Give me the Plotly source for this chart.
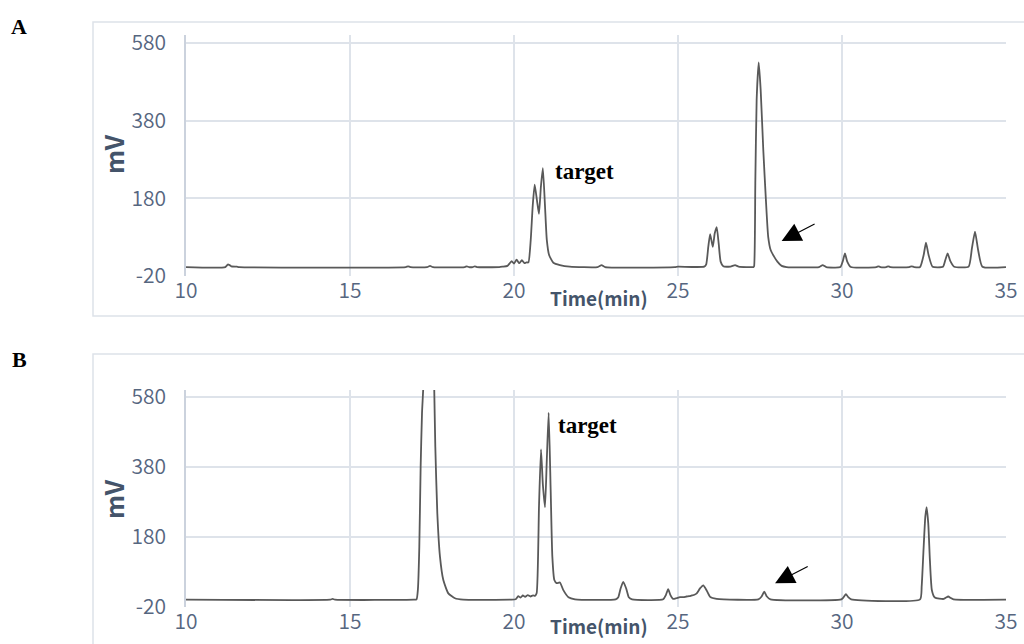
import plotly.graph_objects as go

# ---- Chromatogram A: retention time (min) and detector signal (mV) ----
time_a = [10.0, 11.20, 11.28, 11.33, 11.38, 11.55, 11.62, 16.70, 16.77, 16.84,
          17.35, 17.44, 17.53, 18.50, 18.56, 18.63, 18.74, 18.80, 18.87, 19.55,
          19.65, 19.80, 19.93, 20.00, 20.08, 20.16, 20.24, 20.32, 20.38, 20.44,
          20.51, 20.57, 20.63, 20.70, 20.76, 20.82, 20.88, 20.945, 21.00, 21.07,
          21.20, 21.40, 21.70, 22.55, 22.67, 22.78, 24.90, 25.00, 25.80, 25.86,
          25.925, 25.98, 26.06, 26.12, 26.18, 26.24, 26.30, 26.38, 26.60, 26.74,
          26.85, 27.30, 27.32, 27.357, 27.398, 27.46, 27.52, 27.60, 27.68, 27.75,
          27.825, 27.93, 28.03, 28.16, 28.31, 29.30, 29.41, 29.52, 29.95, 30.02,
          30.09, 30.16, 30.27, 31.05, 31.11, 31.17, 31.35, 31.41, 31.47, 32.05,
          32.12, 32.20, 32.38, 32.49, 32.56, 32.64, 32.76, 33.08, 33.15, 33.22,
          33.30, 33.42, 33.86, 33.96, 34.055, 34.15, 34.28, 35.0]
mv_a = [3, 3, 10, 8, 5, 4, 3, 3, 5, 3,
        3, 6, 3, 3, 5, 3, 3, 5, 3, 3,
        4, 6, 18, 12, 22, 13, 21, 13, 15, 15,
        73, 160, 215, 175, 140, 210, 258, 160, 73, 34,
        14, 8, 4, 3, 8, 3, 3, 4, 4, 10,
        56, 88, 55, 90, 106, 64, 17, 5, 4, 8,
        4, 3, 5, 219, 434, 530, 460, 305, 176, 81,
        47, 30, 17, 6, 3, 3, 8, 3, 3, 17,
        38, 17, 3, 3, 5, 3, 3, 5, 3, 3,
        5, 3, 3, 34, 66, 34, 4, 4, 21, 38,
        19, 4, 4, 51, 94, 47, 4, 3]

# ---- Chromatogram B ----
time_b = [10.0, 14.40, 14.47, 14.54, 16.95, 17.03, 17.07, 17.113, 17.154, 17.195,
          17.24, 17.40, 17.565, 17.601, 17.662, 17.743, 17.845, 17.998, 18.20, 18.45,
          19.90, 20.05, 20.13, 20.20, 20.27, 20.34, 20.42, 20.50, 20.58, 20.64,
          20.69, 20.762, 20.823, 20.88, 20.945, 21.00, 21.057, 21.118, 21.169, 21.23,
          21.30, 21.40, 21.50, 21.66, 21.86, 23.10, 23.18, 23.25, 23.33, 23.42,
          23.50, 23.60, 24.55, 24.63, 24.70, 24.77, 24.85, 24.95, 25.06, 25.16,
          25.26, 25.34, 25.42, 25.50, 25.57, 25.67, 25.77, 25.87, 25.98, 26.18,
          27.45, 27.55, 27.63, 27.71, 27.82, 29.98, 30.05, 30.12, 30.19, 30.28,
          32.38, 32.43, 32.48, 32.54, 32.58, 32.63, 32.68, 32.74, 32.83, 33.10,
          33.17, 33.24, 33.31, 33.40, 35.0]
mv_b = [1, 1, 3, 1, 1, 2, 30, 152, 381, 533,
        620, 1400, 620, 438, 248, 124, 57, 19, 5, 1,
        1, 2, 11, 7, 13, 9, 14, 10, 13, 12,
        19, 267, 430, 330, 265, 400, 535, 314, 124, 57,
        48, 50, 29, 8, 2, 2, 8, 33, 52, 33,
        8, 2, 2, 14, 31, 14, 3, 5, 8, 8,
        10, 11, 13, 15, 19, 33, 42, 28, 9, 3,
        2, 10, 24, 10, 2, 2, 8, 17, 8, 2,
        2, 40, 133, 238, 265, 219, 114, 28, 7, 3,
        7, 10, 6, 2, 1]

# axis ticks
x_tickvals = [10, 15, 20, 25, 30, 35]
y_tickvals = [-20, 180, 380, 580]
y_ticktext = ["-20", "180", "380", "580"]
x_range = [10, 35]
y_range = [-20, 600]

W, H = 1024, 644
LINE = "#595959"
GRID = "#dee3ea"
TICK_COLOR = "#56667f"
TITLE_COLOR = "#44546a"
SANS = "Noto Sans CJK SC"
SERIF = "Liberation Serif"


def px_x(p):
    return p / W


def px_y(p):
    return 1 - p / H


fig = go.Figure()
trace_line = dict(color=LINE, width=1.8, shape="spline", smoothing=0.5)
fig.add_trace(go.Scatter(x=time_a, y=mv_a, mode="lines", xaxis="x", yaxis="y",
                         line=trace_line, showlegend=False))
fig.add_trace(go.Scatter(x=time_b, y=mv_b, mode="lines", xaxis="x2", yaxis="y2",
                         line=trace_line, showlegend=False))

tick_font = dict(family=SANS, size=21, color=TICK_COLOR, weight=350)
x_common = dict(range=x_range, tickmode="array", tickvals=x_tickvals, showgrid=True,
                gridcolor=GRID, gridwidth=1.5, zeroline=False, showline=False,
                ticks="", automargin=False, tickfont=tick_font,
                domain=[px_x(186), px_x(1006)], fixedrange=True)
y_common = dict(range=y_range, tickmode="array", tickvals=y_tickvals, ticktext=y_ticktext,
                showgrid=True, gridcolor=GRID, gridwidth=1.5, zeroline=False,
                showline=True, linecolor="#cbd2dd", linewidth=1.5, ticks="",
                automargin=False, ticklabelstandoff=14, tickfont=tick_font,
                fixedrange=True)

fig.update_layout(
    template="none",
    width=W, height=H, autosize=False,
    margin=dict(l=0, r=0, t=0, b=0, pad=0, autoexpand=False),
    paper_bgcolor="white", plot_bgcolor="white",
    xaxis=dict(**x_common, anchor="y"),
    yaxis=dict(**y_common, anchor="x", domain=[px_y(276), px_y(35.3)]),
    xaxis2=dict(**x_common, anchor="y2"),
    yaxis2=dict(**y_common, anchor="x2", domain=[px_y(607), px_y(390)]),
)

# panel frames
fig.add_shape(type="rect", xref="paper", yref="paper",
              x0=px_x(93), x1=1.02, y0=px_y(316), y1=px_y(22),
              line=dict(color="#dde2e9", width=1.5), layer="below")
fig.add_shape(type="rect", xref="paper", yref="paper",
              x0=px_x(93), x1=1.02, y0=-0.05, y1=px_y(354),
              line=dict(color="#dde2e9", width=1.5), layer="below")

annotations = []
# panel letters
for letter, cy in (("A", 27), ("B", 359)):
    annotations.append(dict(text=letter, xref="paper", yref="paper",
                            x=px_x(19), y=px_y(cy), xanchor="center", yanchor="middle",
                            showarrow=False,
                            font=dict(family=SERIF, size=22, color="black", weight="bold")))
# axis titles
for cy in (154, 499):
    annotations.append(dict(text="<b>mV</b>", xref="paper", yref="paper",
                            x=px_x(113), y=px_y(cy), xanchor="center", yanchor="middle",
                            textangle=-90, showarrow=False,
                            font=dict(family=SANS, size=25, color=TITLE_COLOR)))
for cy in (298, 625):
    annotations.append(dict(text="<b>Time(min)</b>", xref="paper", yref="paper",
                            x=px_x(599), y=px_y(cy), xanchor="center", yanchor="middle",
                            showarrow=False,
                            font=dict(family=SANS, size=19, color=TITLE_COLOR)))
# peak labels
annotations.append(dict(text="<b>target</b>", xref="x", yref="y", x=21.2, y=248,
                        xanchor="left", yanchor="middle", showarrow=False,
                        font=dict(family=SERIF, size=23, color="black")))
annotations.append(dict(text="<b>target</b>", xref="x2", yref="y2", x=21.29, y=500,
                        xanchor="left", yanchor="middle", showarrow=False,
                        font=dict(family=SERIF, size=23, color="black")))
# arrows pointing to the minor peaks
annotations.append(dict(text="", xref="x", yref="y", x=28.16, y=70,
                        axref="x", ayref="y", ax=29.21, ay=116,
                        showarrow=True, arrowhead=2, arrowsize=3.2, arrowwidth=1.2,
                        arrowcolor="black"))
annotations.append(dict(text="", xref="x2", yref="y2", x=27.96, y=48,
                        axref="x2", ayref="y2", ax=29.0, ay=98,
                        showarrow=True, arrowhead=2, arrowsize=3.2, arrowwidth=1.2,
                        arrowcolor="black"))
fig.update_layout(annotations=annotations)

# let the figure fill the page edge to edge
fig.write_html("out.html",
               post_script="document.body.style.margin='0';"
                           "document.body.style.overflow='hidden';")
